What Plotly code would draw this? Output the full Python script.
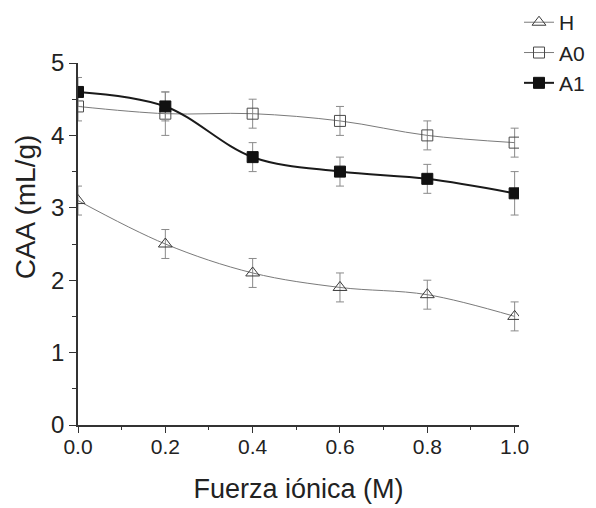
import plotly.graph_objects as go

# Data
x_vals = [0.0, 0.2, 0.4, 0.6, 0.8, 1.0]
H_vals = [3.1, 2.5, 2.1, 1.9, 1.8, 1.5]
H_err = [0.2, 0.2, 0.2, 0.2, 0.2, 0.2]
A0_vals = [4.4, 4.3, 4.3, 4.2, 4.0, 3.9]
A0_err = [0.2, 0.3, 0.2, 0.2, 0.2, 0.2]
A1_vals = [4.6, 4.4, 3.7, 3.5, 3.4, 3.2]
A1_err = [0.2, 0.2, 0.2, 0.2, 0.2, 0.3]
x_ticks = [0.0, 0.2, 0.4, 0.6, 0.8, 1.0]
x_ticklabels = ["0.0", "0.2", "0.4", "0.6", "0.8", "1.0"]
y_ticks = [0, 1, 2, 3, 4, 5]
x_title = "Fuerza iónica (M)"
y_title = "CAA (mL/g)"

FONT = "Liberation Sans, Arial, sans-serif"

fig = go.Figure()

def add_series(name, y, err, symbol, msize, mcolor, mline, lcolor, lwidth):
    fig.add_trace(go.Scatter(
        x=x_vals, y=y, name=name, mode="lines+markers",
        line=dict(color=lcolor, width=lwidth, shape="spline", smoothing=1),
        marker=dict(symbol=symbol, size=msize, color=mcolor,
                    line=dict(color=mline, width=1)),
        error_y=dict(type="data", array=err, visible=True,
                     color="#8a8a8a", thickness=1, width=4),
    ))

add_series("H", H_vals, H_err, "triangle-up-open", 12, "#3a3a3a", "#3a3a3a", "#7a7a7a", 1)
add_series("A0", A0_vals, A0_err, "square-open", 11, "#4a4a4a", "#4a4a4a", "#7a7a7a", 1)
add_series("A1", A1_vals, A1_err, "square", 11, "#111111", "#111111", "#1a1a1a", 2)

l, r, t, b = 77.5, 77, 63, 82.5
W, Hh = 596, 508
pw = W - l - r
ph = Hh - t - b

fig.update_layout(
    width=W, height=Hh,
    margin=dict(l=l, r=r, t=t, b=b, autoexpand=False),
    paper_bgcolor="white", plot_bgcolor="white",
    font=dict(family=FONT, color="#222222"),
    showlegend=True,
    legend=dict(
        x=(519 - l) / pw, y=1 + (t - 2) / ph, xanchor="left", yanchor="top",
        font=dict(size=21, family=FONT, color="#222222"),
        bgcolor="rgba(0,0,0,0)", borderwidth=0,
    ),
    xaxis=dict(
        range=[0, 1.01], showgrid=False, zeroline=False,
        showline=True, linecolor="#333333", linewidth=1.5,
        ticks="outside", ticklen=6, tickwidth=1.2, tickcolor="#333333",
        tickvals=x_ticks, ticktext=x_ticklabels,
        tickfont=dict(size=21, family=FONT, color="#222222"),
        ticklabelstandoff=-4,
        minor=dict(ticks="outside", ticklen=3, tickwidth=1, tickcolor="#333333", dtick=0.1, showgrid=False),
        title=dict(text=x_title, font=dict(size=27, family=FONT, color="#222222"), standoff=22),
    ),
    yaxis=dict(
        range=[0, 5], showgrid=False, zeroline=False,
        showline=True, linecolor="#333333", linewidth=1.5,
        ticks="outside", ticklen=7, tickwidth=1.2, tickcolor="#333333",
        tickvals=y_ticks,
        tickfont=dict(size=24, family=FONT, color="#222222"),
        minor=dict(ticks="outside", ticklen=4, tickwidth=1, tickcolor="#333333", dtick=0.5, showgrid=False),
    ),
    annotations=[dict(
        text=y_title, textangle=-90, showarrow=False,
        xref="paper", yref="paper",
        x=(25 - l) / pw, y=(Hh - b - 207) / ph,
        xanchor="center", yanchor="middle",
        font=dict(size=28, family=FONT, color="#222222"),
    )],
)

fig.write_html("out.html", config={"displayModeBar": False},
               post_script="document.body.style.margin='0';")
